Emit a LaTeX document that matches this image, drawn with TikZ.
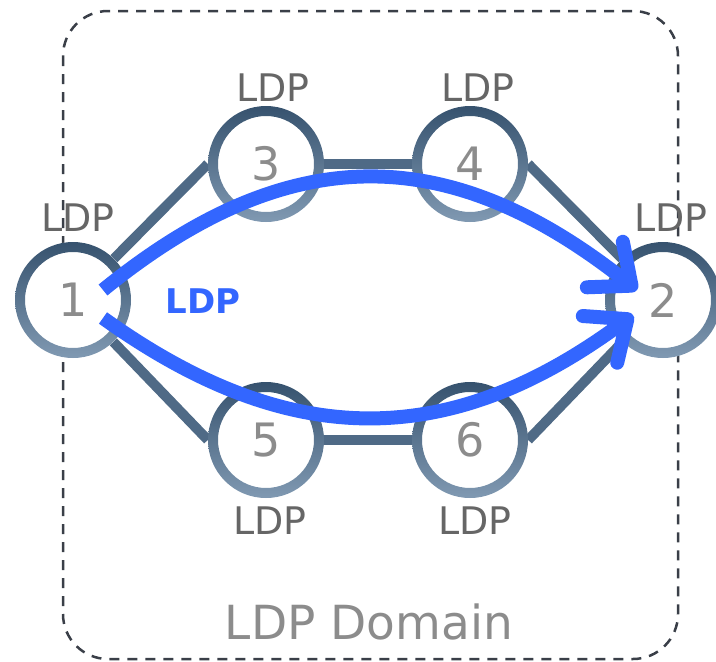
\documentclass[tikz,border=0pt]{standalone}
\usepackage{fontspec}
\setmainfont{DejaVu Sans}
\usetikzlibrary{arrows.meta}

\definecolor{ringtop}{HTML}{36526E}
\definecolor{ringbot}{HTML}{8099B2}
\definecolor{linkc}{HTML}{4F6A86}
\definecolor{ldpblue}{HTML}{3366FF}
\definecolor{numgray}{HTML}{8C8C8C}
\definecolor{lblgray}{HTML}{666666}
\definecolor{boxc}{HTML}{3A3F48}

\begin{document}
\begin{tikzpicture}[x=1pt,y=-1pt,
        router/.style={circle,minimum size=116pt,inner sep=0pt,fill=white,text=numgray,font=\fontsize{46}{46}\selectfont},
        ldplbl/.style={text=lblgray,inner sep=0pt,font=\fontsize{38}{38}\selectfont},
        link/.style={draw=linkc,line width=10pt},
        lsp/.style={draw=ldpblue,line width=14pt,-{Straight Barb[length=34pt,width=58pt,line width=0pt 1,round]},
            preaction={draw=black,opacity=0.12,transform canvas={shift={(2pt,-3pt)}}}}]
        \useasboundingbox (0,0) rectangle (716,662);

        % LDP 域
        \draw[boxc,line width=2.5pt,dash pattern=on 10pt off 8pt,rounded corners=45pt] (63,11) rectangle (678,659);
        \node[inner sep=0pt,text=numgray,font=\fontsize{47}{47}\selectfont] (dom) at (369,622) {LDP Domain};

        % 路由器 1--6
        \foreach \n/\x/\y in {1/73/300,2/663/300,3/266/164,4/470/164,5/266/440,6/470/440}
            {
                \node[router] (r\n) at (\x,\y) {\n};
            }

        % 标签 LDP
        \foreach \n/\x/\y in {1/78/218,2/671/218,3/273/88,4/478/88,5/270/521,6/475/521}
            {
                \node[ldplbl] (l\n) at (\x,\y) {LDP};
            }

        % 链路
        \draw[link] (r1) -- (r3.west);
        \draw[link] (r1) -- (r5.west);
        \draw[link] (r3) -- (r4);
        \draw[link] (r5) -- (r6);
        \draw[link] (r4.east) -- (r2);
        \draw[link] (r6.east) -- (r2);

        % 圆环
        \foreach \n in {1,...,6}
            {
                \shade[top color=ringtop,bottom color=ringbot,even odd rule] (r\n.center) circle[radius=58pt] circle[radius=48pt];
            }

        % LSP 箭头
        \coordinate (up0) at (103,290);
        \coordinate (up1) at (637,290);
        \coordinate (lo0) at (103,318);
        \coordinate (lo1) at (633,315);
        \draw[lsp] (up0) .. controls (290,138) and (450,142) .. (up1);
        \draw[lsp] (lo0) .. controls (290,452) and (450,450) .. (lo1);
        \node[text=ldpblue,inner sep=0pt,font=\bfseries\fontsize{34}{34}\selectfont] (lsplbl) at (203,301) {LDP};

    \end{tikzpicture}
\end{document}
